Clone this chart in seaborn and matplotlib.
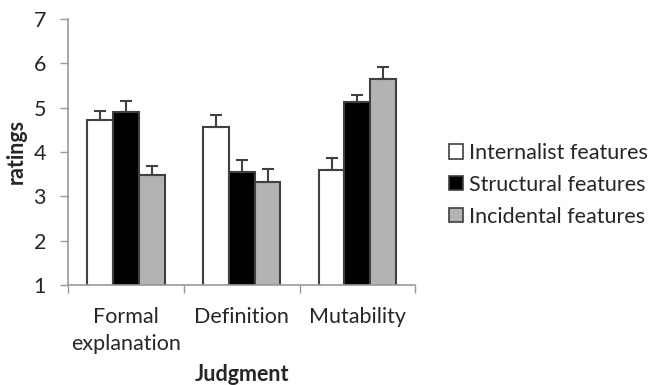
import matplotlib
matplotlib.use("Agg")
import matplotlib.pyplot as plt
import seaborn as sns
import pandas as pd
import numpy as np

categories = ["Formal\nexplanation", "Definition", "Mutability"]
series = ["Internalist features", "Structural features", "Incidental features"]
internalist = [4.71, 4.57, 3.59]
structural = [4.89, 3.55, 5.12]
incidental = [3.48, 3.32, 5.64]
internalist_err = [0.22, 0.27, 0.27]
structural_err = [0.26, 0.27, 0.17]
incidental_err = [0.20, 0.29, 0.27]
colors = ["#ffffff", "#000000", "#b3b3b3"]

values = [internalist, structural, incidental]
errs = [internalist_err, structural_err, incidental_err]
rows = []
for s, vals in zip(series, values):
    for c, v in zip(categories, vals):
        rows.append({"Judgment": c, "series": s, "ratings": v})
df = pd.DataFrame(rows)

sns.set_style("white")
plt.rcParams['font.family'] = ['Lato', 'DejaVu Sans']
FS = 15.5

fig = plt.figure(figsize=(6.55, 3.85), dpi=100)
ax = fig.add_axes([0.104, 0.26, 0.530, 0.691])

sns.barplot(data=df, x="Judgment", y="ratings", hue="series", order=categories,
            hue_order=series, palette=colors, width=0.67, edgecolor="#404040",
            linewidth=1.5, errorbar=None, ax=ax, legend=True)

for cont, e in zip(ax.containers, errs):
    xs = [p.get_x() + p.get_width() / 2 for p in cont]
    ys = [p.get_height() + p.get_y() for p in cont]
    ax.errorbar(xs, ys, yerr=[np.zeros(len(e)), e], fmt="none", ecolor="#404040",
                elinewidth=1.5, capsize=4.5, capthick=1.5, zorder=3)

ax.set_ylim(1, 7)
ax.set_xlim(-0.5, 2.5)
ax.set_yticks(range(1, 8))
ax.tick_params(axis="y", labelsize=FS, length=6, color="#999999", width=1,
               direction="out", left=True, pad=10)
ax.set_xticks(range(3))
ax.set_xticklabels(categories, fontsize=FS, linespacing=1.45)
ax.tick_params(axis="x", which="major", length=0, pad=16)
ax.set_xticks([-0.5, 0.5, 1.5, 2.5], minor=True)
ax.tick_params(axis="x", which="minor", length=6, color="#999999", width=1,
               direction="out", bottom=True)
for sp in ["top", "right"]:
    ax.spines[sp].set_visible(False)
for sp in ["left", "bottom"]:
    ax.spines[sp].set_color("#999999")
    ax.spines[sp].set_linewidth(1.2)

ax.set_ylabel("ratings", fontsize=FS, fontweight="bold", labelpad=5)
ax.set_xlabel("Judgment", fontsize=FS, fontweight="bold", labelpad=7)

leg = ax.legend(loc="center left", bbox_to_anchor=(0.673, 0.52), bbox_transform=fig.transFigure,
                frameon=False, fontsize=FS, handlelength=0.65, handleheight=0.65,
                handletextpad=0.25, labelspacing=0.55, borderaxespad=0)
for h in leg.legend_handles:
    h.set_edgecolor("#404040")
    h.set_linewidth(1.2)

fig.savefig("out.png", dpi=100)
